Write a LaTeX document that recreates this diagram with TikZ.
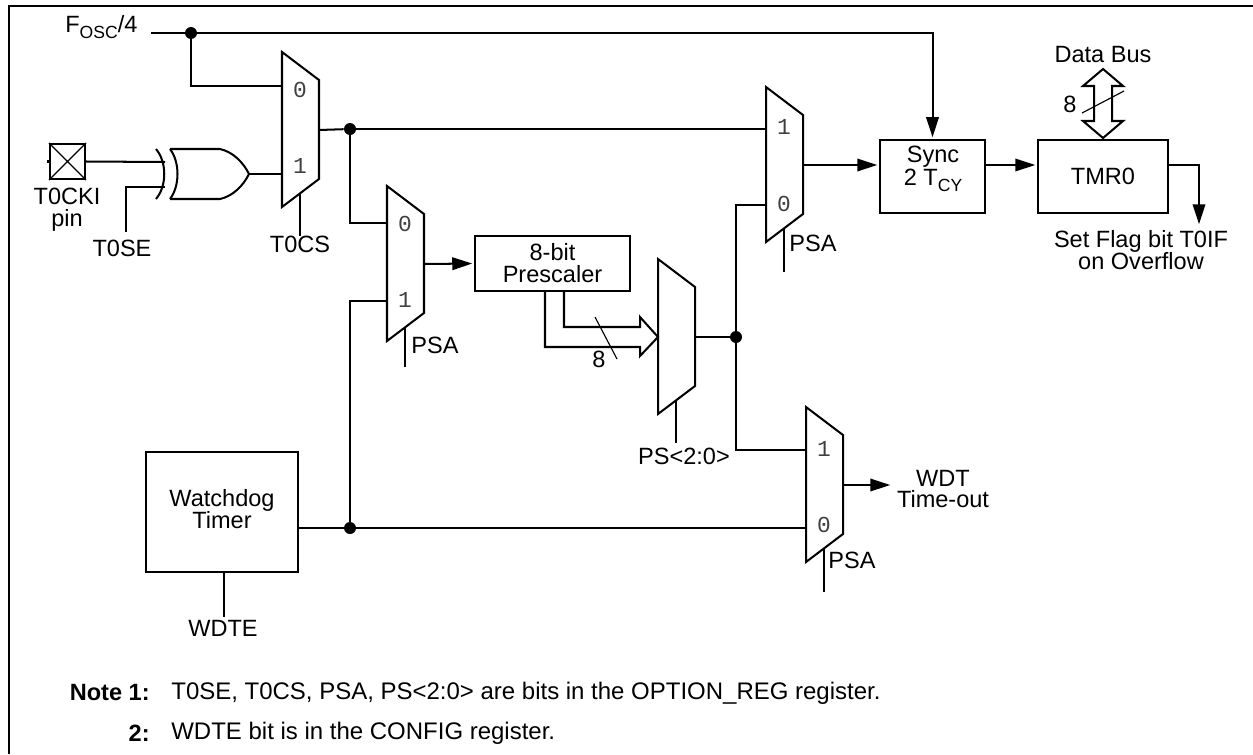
\documentclass[tikz,border=0pt]{standalone}
\usepackage{fontspec}
\setmainfont{Liberation Sans}
\newfontfamily\digitfont{Liberation Mono}
\usepackage{tikz}
\usetikzlibrary{arrows.meta, calc}
\newcommand{\lowtxt}[1]{\raisebox{-3.5pt}{\fontsize{10}{10}\selectfont #1}}

\begin{document}
\begin{tikzpicture}[
  x=0.02cm, y=-0.02cm,
  wire/.style={line width=1.15pt},
  flow/.style={line width=1.15pt, -{Triangle[length=0.4cm, width=0.25cm]}, shorten >=1pt},
  thin wire/.style={line width=0.65pt},
  blockbox/.style={draw, line width=1.15pt, inner sep=0pt, align=center},
  labeltext/.style={font=\fontsize{13.4}{12.5}\selectfont, align=center, inner sep=0pt},
  notetext/.style={font=\fontsize{13.65}{14}\selectfont, anchor=west, inner sep=0pt},
  bitlabel/.style={font=\digitfont\fontsize{13}{13}\selectfont, text=black!75, inner sep=0pt},
  dot/.style={circle, fill=black, minimum size=0.24cm, inner sep=0pt}
]
\useasboundingbox (0,0) rectangle (1253,754);

%% Outer frame
\draw[wire] (9,754) |- (1253,6);

%% Multiplexers
\foreach \name/\x/\y in {muxclk/282/52, muxpre/387/186, muxdiv/658/259, muxsync/766/87, muxwdt/806/407} {
  \draw[wire] (\x,\y) -- (\x+37,\y+28) -- (\x+37,\y+127) -- (\x,\y+155) -- cycle;
  \coordinate (\name out) at (\x+37,\y+78);
  \coordinate (\name sel) at (\x+18,\y+141);
}
\node[bitlabel] (clkzero) at (300,90) {0};
\node[bitlabel] (clkone) at (300,166) {1};
\node[bitlabel] (prezero) at (405,224) {0};
\node[bitlabel] (preone) at (405,300) {1};
\node[bitlabel] (syncone) at (784,127) {1};
\node[bitlabel] (synczero) at (784,204) {0};
\node[bitlabel] (wdtone) at (824,449) {1};
\node[bitlabel] (wdtzero) at (824,525) {0};

%% Blocks
\node[blockbox, minimum width=3.1cm, minimum height=1.1cm, font=\fontsize{13.4}{12.5}\selectfont] (prescaler) at (552.5,263.5) {8-bit\\Prescaler};
\node[blockbox, minimum width=2.1cm, minimum height=1.46cm] (sync) at (932.5,176.5) {};
\node[labeltext, font=\fontsize{13.4}{17.6}\selectfont] (synclabel) at (933,169) {Sync\\[-5pt]2 T\lowtxt{CY}};
\node[blockbox, minimum width=2.6cm, minimum height=1.46cm, font=\fontsize{13.4}{12.5}\selectfont] (tmr) at (1103,176.5) {TMR0};
\node[blockbox, minimum width=3.04cm, minimum height=2.4cm] (watchdog) at (222,512) {};
\node[labeltext] (watchdoglabel) at (222,509) {Watchdog\\Timer};
\node[draw, line width=1.15pt, minimum size=0.7cm, inner sep=0pt] (pin) at (67.5,161.5) {};
\draw[thin wire] (pin.north west) -- (pin.south east) (pin.north east) -- (pin.south west);

%% Labels
\node[labeltext, anchor=west] (fosc) at (65,27) {F\lowtxt{OSC}/4};
\node[labeltext] (pinlabel) at (67,210) {T0CKI\\pin};
\node[labeltext] (tselabel) at (122,248) {T0SE};
\node[labeltext] (tcslabel) at (300,244) {T0CS};
\node[labeltext, anchor=west] (psapre) at (411,345) {PSA};
\node[labeltext, anchor=west] (psasync) at (789,243) {PSA};
\node[labeltext, anchor=west] (psawdt) at (828,560) {PSA};
\node[labeltext] (pslabel) at (684,456) {PS<2:0>};
\node[labeltext] (wdtelabel) at (223,628) {WDTE};
\node[labeltext] (wdtlabel) at (943,489) {WDT\\Time-out};
\node[labeltext] (flaglabel) at (1141,250) {Set Flag bit T0IF\\on Overflow};
\node[labeltext] (buslabel) at (1103,55) {Data Bus};
\node[labeltext] (buswidth) at (1070,104) {8};
\node[labeltext] (prewidth) at (599,359) {8};
\node[labeltext, anchor=east] (noteone) at (150,693) {\bfseries Note 1:};
\node[notetext] (noteonetext) at (171,693) {T0SE, T0CS, PSA, PS<2:0> are bits in the OPTION\_REG register.};
\node[labeltext, anchor=east] (notetwo) at (150,733) {\bfseries 2:};
\node[notetext] (notetwotext) at (171,733) {WDTE bit is in the CONFIG register.};

%% Junctions
\node[dot] (jfosc) at (191,33) {};
\node[dot] (jclk) at (350,129) {};
\node[dot] (jdiv) at (736,337) {};
\node[dot] (jwdt) at (350,528) {};

%% XOR gate
\coordinate (xoroutput) at (249,174);
\draw[wire] (170,149) -- (220,149) .. controls (233,152) and (243,162) .. (xoroutput)
  .. controls (243,186) and (233,196) .. (220,199) -- (170,199);
\draw[wire] (170,149) .. controls (180,162) and (180,186) .. (170,199);
\draw[wire] (156,149) .. controls (167,162) and (167,186) .. (156,199);

%% Clock select and input wires
\draw[wire] (151,33) -- (jfosc);
\draw[flow] (jfosc) -| (sync.north);
\draw[wire] (jfosc) |- (282,86);
\draw[wire] (pin.east) -- (165,162);
\draw[wire] (pin.west) -- ++(-2,0);
\draw[wire] (165,187) -| (126,232);
\draw[wire] (xoroutput) -- (282,174);
\draw[wire] (muxclksel) -- (300,236);
\draw[wire] (muxclkout) -- (jclk);
\draw[wire] (jclk) -- (766,129);
\draw[wire] (jclk) |- (387,223);
\draw[wire] (jwdt) |- (387,301);

%% Prescaler path
\draw[flow] (muxpreout) -- (prescaler.west);
\draw[wire] (muxpresel) -- (405,367);
\coordinate (bustip) at (658,337);
\draw[wire] (564,291) |- (640,327) -- (640,317) -- (bustip) -- (640,356) -- (640,347) -| (545,291);
\draw[thin wire] (595,317) -- (617,359);
\draw[wire] (muxdivsel) -- (676,443);
\draw[wire] (muxdivout) -- (jdiv);
\draw[wire] (jdiv) |- (766,205);
\draw[wire] (jdiv) |- (806,450);

%% Sync and timer
\draw[flow] (muxsyncout) -- (sync.west |- muxsyncout);
\draw[wire] (muxsyncsel) -- (784,272);
\draw[flow] (sync.east |- muxsyncout) -- (tmr.west |- muxsyncout);
\draw[flow] (tmr.east |- muxsyncout) -| (1199,226);
\draw[wire] (1094,121) -- (1083,121) -- (1103,138) -- (1123,121) -- (1112,121) -- (1112,86) -- (1123,86) -- (1103,69) -- (1083,86) -- (1094,86) -- cycle;
\draw[thin wire] (1082,113) -- (1124,91);

%% Watchdog path
\draw[wire] (watchdog.east |- jwdt) -- (806,528);
\draw[wire] (224,572) -- (224,617);
\draw[flow] (muxwdtout) -- (892,485);
\draw[wire] (muxwdtsel) -- (824,592);
\end{tikzpicture}
\end{document}
